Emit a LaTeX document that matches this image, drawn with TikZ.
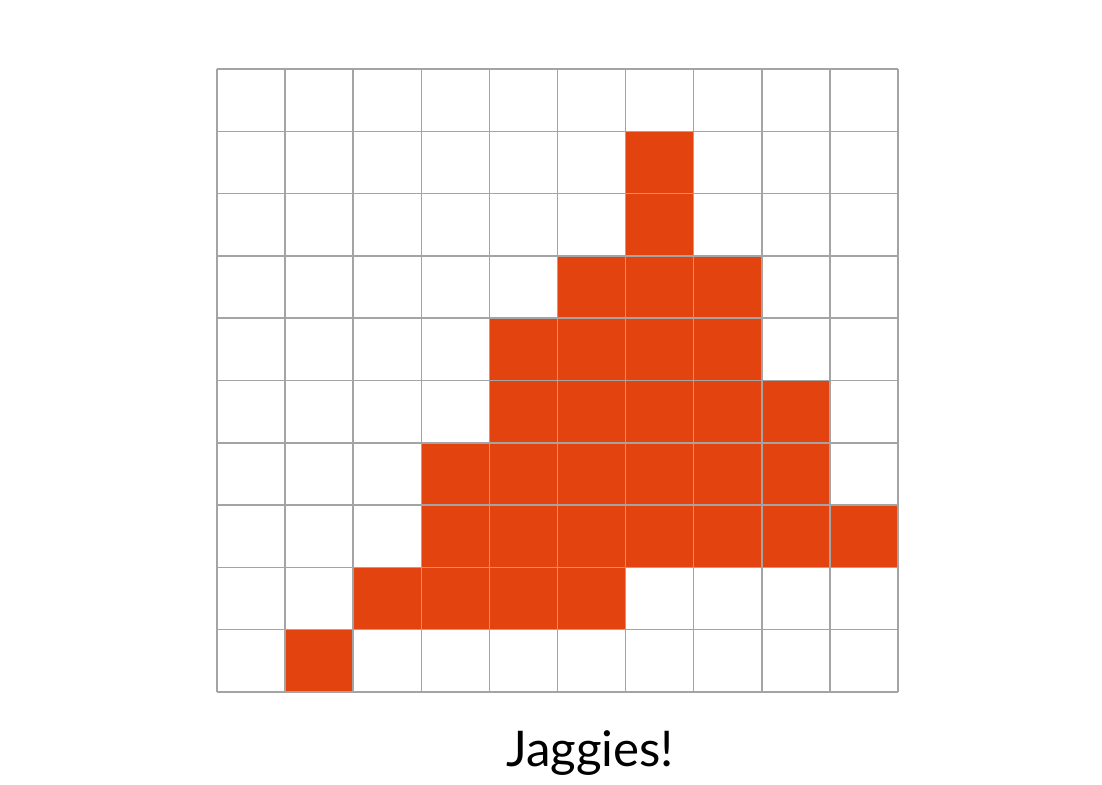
\documentclass[tikz,border=0pt]{standalone}
\usepackage{fontspec}
\setmainfont{Lato}
\usepackage{xcolor}
\definecolor{pixel-red}{HTML}{E2430F}
\definecolor{grid-gray}{HTML}{A4A4A4}

\begin{document}
\begin{tikzpicture}[x=1.7025cm, y=-1.5575cm,
      cell/.style={fill=pixel-red},
      gridline/.style={draw=grid-gray, line width=1.1pt}]
    \useasboundingbox (-3.1865,-1.1075) rectangle (12.9956,11.4928);
    % filled pixels, column/row from the top left
    \foreach \c/\r in {6/1, 6/2, 5/3, 6/3, 7/3,
        4/4, 5/4, 6/4, 7/4, 4/5, 5/5, 6/5, 7/5, 8/5,
        3/6, 4/6, 5/6, 6/6, 7/6, 8/6,
        3/7, 4/7, 5/7, 6/7, 7/7, 8/7, 9/7,
        2/8, 3/8, 4/8, 5/8, 1/9}
      \fill[cell] (\c,\r) rectangle ++(1,1);
    \draw[gridline, xstep=1.7025cm, ystep=1.5575cm] (0,0) grid (10,10);
    \node[font=\fontsize{35}{42}\selectfont, anchor=base] (caption) at (5.48,11.19) {Jaggies!};
  \end{tikzpicture}
\end{document}
